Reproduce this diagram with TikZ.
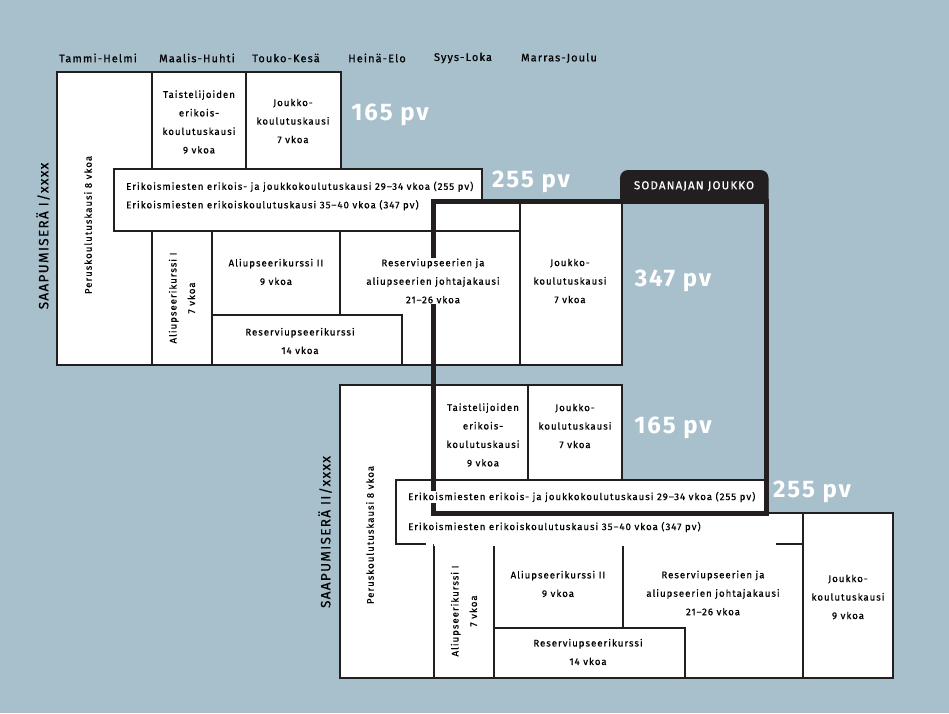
\documentclass[tikz,border=0pt]{standalone}
\usepackage{fontspec}
\setmainfont{Fira Sans}
\newfontfamily\boxfont[LetterSpace=10, FakeBold=0.6]{Fira Sans}
\newfontfamily\bigfont[LetterSpace=8]{Fira Sans}
\usetikzlibrary{positioning}
\definecolor{bgblue}{RGB}{168,191,204}
\definecolor{inkblack}{RGB}{35,31,32}

\tikzset{
  box/.style={draw=inkblack, fill=white, line width=1.1pt},
  edge/.style={draw=inkblack, line width=1.1pt},
  txt/.style={font=\boxfont\fontsize{9.7}{18.5}\selectfont, align=center, inner sep=1pt},
  txtw/.style={txt, fill=white},
  month/.style={font=\boxfont\fontsize{11}{12}\selectfont},
  sarja/.style={font=\boxfont\fontsize{13.5}{14}\selectfont, rotate=90},
  days/.style={text=white, font=\bigfont\fontsize{24}{25}\bfseries\selectfont},
  tab/.style={text=white, font=\boxfont\fontsize{11.5}{12}\selectfont},
  frame/.style={draw=inkblack, line width=5pt},
}

\begin{document}
\begin{tikzpicture}[x=1pt,y=-1pt]
\fill[bgblue] (0,0) rectangle (949,713);
\useasboundingbox (0,0) rectangle (949,713);

% kuukaudet
\node[month] (tammi) at (98,58) {Tammi-Helmi};
\node[month] (maalis) at (197,58) {Maalis-Huhti};
\node[month] (touko) at (286,58) {Touko-Kesä};
\node[month] (heina) at (377,58) {Heinä-Elo};
\node[month] (syys) at (463,58) {Syys-Loka};
\node[month] (marras) at (559,58) {Marras-Joulu};

% saapumiserä I
\draw[box] (57,72) rectangle (152,365);
\draw[box] (152,72) rectangle (246,169);
\draw[box] (246,72) rectangle (341,169);
\draw[box] (152,231) rectangle (212,365);
\draw[box] (212,231) rectangle (340,315);
\draw[box] (340,231) rectangle (520,365);
\draw[box] (212,315) rectangle (402,365);
\draw[box] (520,200) rectangle (622,365);
\draw[box] (114,169) -- (482,169) -- (482,200) -- (520,200) -- (520,231) -- (114,231) -- cycle;

% saapumiserä II
\draw[box] (340,385) rectangle (434,678);
\draw[box] (434,385) rectangle (528,480);
\draw[box] (528,385) rectangle (622,480);
\fill[white] (434,544) rectangle (803,678);
\draw[edge] (434,546) -- (434,678) -- (803,678);
\draw[edge] (494,546) -- (494,678);
\draw[edge] (623,546) -- (623,628);
\draw[edge] (494,628) -- (685,628) -- (685,678);
\draw[box] (803,513) rectangle (893,678);
\fill[white] (396,480) rectangle (766,513) (396,513) rectangle (803,544);
\draw[edge] (426,544) -- (396,544) -- (396,480) -- (766,480) -- (766,513) -- (803,513) -- (803,544) -- (776,544);

% sodanajan joukko
\draw[frame] (433,201) rectangle (766,513);
\fill[inkblack] (620,203) [rounded corners=8pt] -- (620,170) -- (768.5,170) [sharp corners] -- (768.5,203) -- cycle;
\node[tab] (sodan) at (694,186) {SODANAJAN JOUKKO};

% tekstit I
\node[sarja] (sarja1) at (43,236) {SAAPUMISERÄ I/xxxx};
\node[txt, rotate=90] (perus1) at (88,225) {Peruskoulutuskausi 8 vkoa};
\node[txt] (taist1) at (199,122) {Taistelijoiden\\erikois-\\koulutuskausi\\9 vkoa};
\node[txt] (joukko1) at (293,121) {Joukko-\\koulutuskausi\\7 vkoa};
\node[days] (pv165a) at (390,115) {165 pv};
\node[txt, anchor=west, align=left] (erik1) at (125,196) {Erikoismiesten erikois- ja joukkokoulutuskausi 29–34 vkoa (255 pv)\\Erikoismiesten erikoiskoulutuskausi 35–40 vkoa (347 pv)};
\node[days] (pv255a) at (531,182) {255 pv};
\node[txt, rotate=90] (auk1a) at (182,298) {Aliupseerikurssi I\\7 vkoa};
\node[txt] (auk2a) at (276,272) {Aliupseerikurssi II\\9 vkoa};
\node[txt] (ruk1) at (300,341) {Reserviupseerikurssi\\14 vkoa};
\node[txtw] (ruj1) at (433,281) {Reserviupseerien ja\\aliupseerien johtajakausi\\21–26 vkoa};
\node[txt] (joukko2) at (570,281) {Joukko-\\koulutuskausi\\7 vkoa};
\node[days] (pv347) at (673,281) {347 pv};

% tekstit II
\node[sarja] (sarja2) at (325,532) {SAAPUMISERÄ II/xxxx};
\node[txt, rotate=90] (perus2) at (370,535) {Peruskoulutuskausi 8 vkoa};
\node[txt] (taist2) at (483,435) {Taistelijoiden\\erikois-\\koulutuskausi\\9 vkoa};
\node[txt] (joukko3) at (575,426) {Joukko-\\koulutuskausi\\7 vkoa};
\node[days] (pv165b) at (673,428) {165 pv};
\node[txtw, anchor=west] (erik2) at (407,497) {Erikoismiesten erikois- ja joukkokoulutuskausi 29–34 vkoa (255 pv)};
\node[txt, anchor=west] (erik3) at (407,527) {Erikoismiesten erikoiskoulutuskausi 35–40 vkoa (347 pv)};
\node[days] (pv255b) at (812,492) {255 pv};
\node[txt, rotate=90] (auk1b) at (464,611) {Aliupseerikurssi I\\7 vkoa};
\node[txt] (auk2b) at (558,584) {Aliupseerikurssi II\\9 vkoa};
\node[txt] (ruk2) at (588,652) {Reserviupseerikurssi\\14 vkoa};
\node[txt] (ruj2) at (713,593) {Reserviupseerien ja\\aliupseerien johtajakausi\\21–26 vkoa};
\node[txt] (joukko4) at (848,597) {Joukko-\\koulutuskausi\\9 vkoa};
\end{tikzpicture}
\end{document}
